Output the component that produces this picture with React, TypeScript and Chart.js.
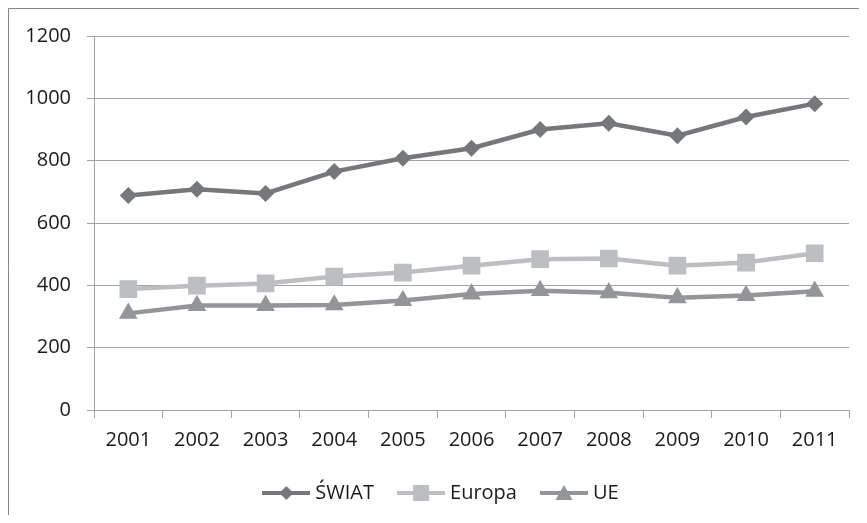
import React, { useEffect, useRef } from "react";
import { Chart, registerables } from "chart.js";

Chart.register(...registerables);

const categories = ["2001", "2002", "2003", "2004", "2005", "2006", "2007", "2008", "2009", "2010", "2011"];
const swiat = [688, 708, 695, 765, 808, 840, 900, 920, 880, 940, 983];
const europa = [388, 399, 406, 428, 441, 463, 484, 486, 463, 473, 503];
const ue = [310, 335, 335, 337, 351, 372, 383, 376, 360, 367, 381];
const seriesNames = ["ŚWIAT", "Europa", "UE"];

const COLORS = ["#76777a", "#bdbec1", "#939598"];
const FONT = "'Open Sans', sans-serif";
const TEXT = "#1a1a1a";
const GRID = "#a3a3a3";
const FRAME = "#858585";

function legendIcon(kind: string, color: string): HTMLCanvasElement {
  const c = document.createElement("canvas");
  c.width = 48;
  c.height = 20;
  const ctx = c.getContext("2d");
  if (!ctx) return c;
  ctx.strokeStyle = color;
  ctx.fillStyle = color;
  ctx.lineWidth = 4;
  ctx.beginPath();
  ctx.moveTo(0, 10);
  ctx.lineTo(48, 10);
  ctx.stroke();
  ctx.beginPath();
  if (kind === "diamond") {
    ctx.moveTo(24, 3);
    ctx.lineTo(31, 10);
    ctx.lineTo(24, 17);
    ctx.lineTo(17, 10);
  } else if (kind === "square") {
    ctx.rect(16, 2, 16, 16);
  } else {
    ctx.moveTo(24, 2);
    ctx.lineTo(32.5, 17);
    ctx.lineTo(15.5, 17);
  }
  ctx.closePath();
  ctx.fill();
  return c;
}

const framePlugin = {
  id: "frame",
  afterLayout(chart: any) {
    if (chart.legend) {
      chart.legend.left += 29;
    }
  },
  beforeDraw(chart: any) {
    const ctx = chart.ctx;
    ctx.save();
    ctx.strokeStyle = FRAME;
    ctx.lineWidth = 1;
    ctx.beginPath();
    ctx.moveTo(0.5, chart.height);
    ctx.lineTo(0.5, 0.5);
    ctx.lineTo(chart.width, 0.5);
    ctx.stroke();
    ctx.restore();
  },
};

export default function App() {
  const ref = useRef<HTMLCanvasElement>(null);

  useEffect(() => {
    if (!ref.current) return;
    const icons = [
      legendIcon("diamond", COLORS[0]),
      legendIcon("square", COLORS[1]),
      legendIcon("triangle", COLORS[2]),
    ];
    const chart = new Chart(ref.current, {
      type: "line",
      plugins: [framePlugin],
      data: {
        labels: categories,
        datasets: [
          {
            label: seriesNames[0],
            data: swiat,
            borderColor: COLORS[0],
            backgroundColor: COLORS[0],
            borderWidth: 4.5,
            pointStyle: "rectRot",
            pointRadius: 8.5,
            pointBorderWidth: 0,
            pointBackgroundColor: COLORS[0],
            tension: 0,
          },
          {
            label: seriesNames[1],
            data: europa,
            borderColor: COLORS[1],
            backgroundColor: COLORS[1],
            borderWidth: 4.5,
            pointStyle: "rect",
            pointRadius: 12.5,
            pointBorderWidth: 0,
            pointBackgroundColor: COLORS[1],
            tension: 0,
          },
          {
            label: seriesNames[2],
            data: ue,
            borderColor: COLORS[2],
            backgroundColor: COLORS[2],
            borderWidth: 4.5,
            pointStyle: "triangle",
            pointRadius: 10.8,
            pointBorderWidth: 0,
            pointBackgroundColor: COLORS[2],
            tension: 0,
          },
        ],
      },
      options: {
        animation: false,
        responsive: true,
        maintainAspectRatio: false,
        layout: { padding: { left: 0, right: 18, top: 26, bottom: 10 } },
        plugins: {
          tooltip: { enabled: false },
          legend: {
            position: "bottom",
            labels: {
              font: { family: FONT, size: 20 },
              color: TEXT,
              usePointStyle: true,
              pointStyleWidth: 38,
              padding: 28,
              generateLabels: () =>
                seriesNames.map((name, i) => ({
                  text: name,
                  pointStyle: icons[i] as any,
                  fillStyle: COLORS[i],
                  strokeStyle: COLORS[i],
                  lineWidth: 0,
                  hidden: false,
                  datasetIndex: i,
                  fontColor: TEXT,
                })),
            },
          },
        },
        scales: {
          x: {
            offset: true,
            grid: {
              offset: true,
              drawOnChartArea: false,
              drawTicks: true,
              tickLength: 8,
              color: GRID,
            },
            border: { display: true, color: GRID, width: 1 },
            ticks: {
              font: { family: FONT, size: 20 },
              color: TEXT,
              padding: 10,
              maxRotation: 0,
            },
            afterFit: (s: any) => {
              s.height = 45;
            },
          },
          y: {
            min: 0,
            max: 1200,
            ticks: {
              stepSize: 200,
              font: { family: FONT, size: 20 },
              color: TEXT,
              padding: 16,
              callback: (v: any) => String(v),
            },
            grid: { color: GRID, tickLength: 7, drawTicks: true },
            border: { display: true, color: GRID, width: 1 },
            afterFit: (s: any) => {
              s.width = 86;
            },
          },
        },
      },
    });
    return () => chart.destroy();
  }, []);

  return (
    <div style={{ width: 859, height: 515, marginBottom: -8 }}>
      <div style={{ position: "relative", width: 859, height: 515 }}>
        <canvas ref={ref} />
      </div>
    </div>
  );
}
